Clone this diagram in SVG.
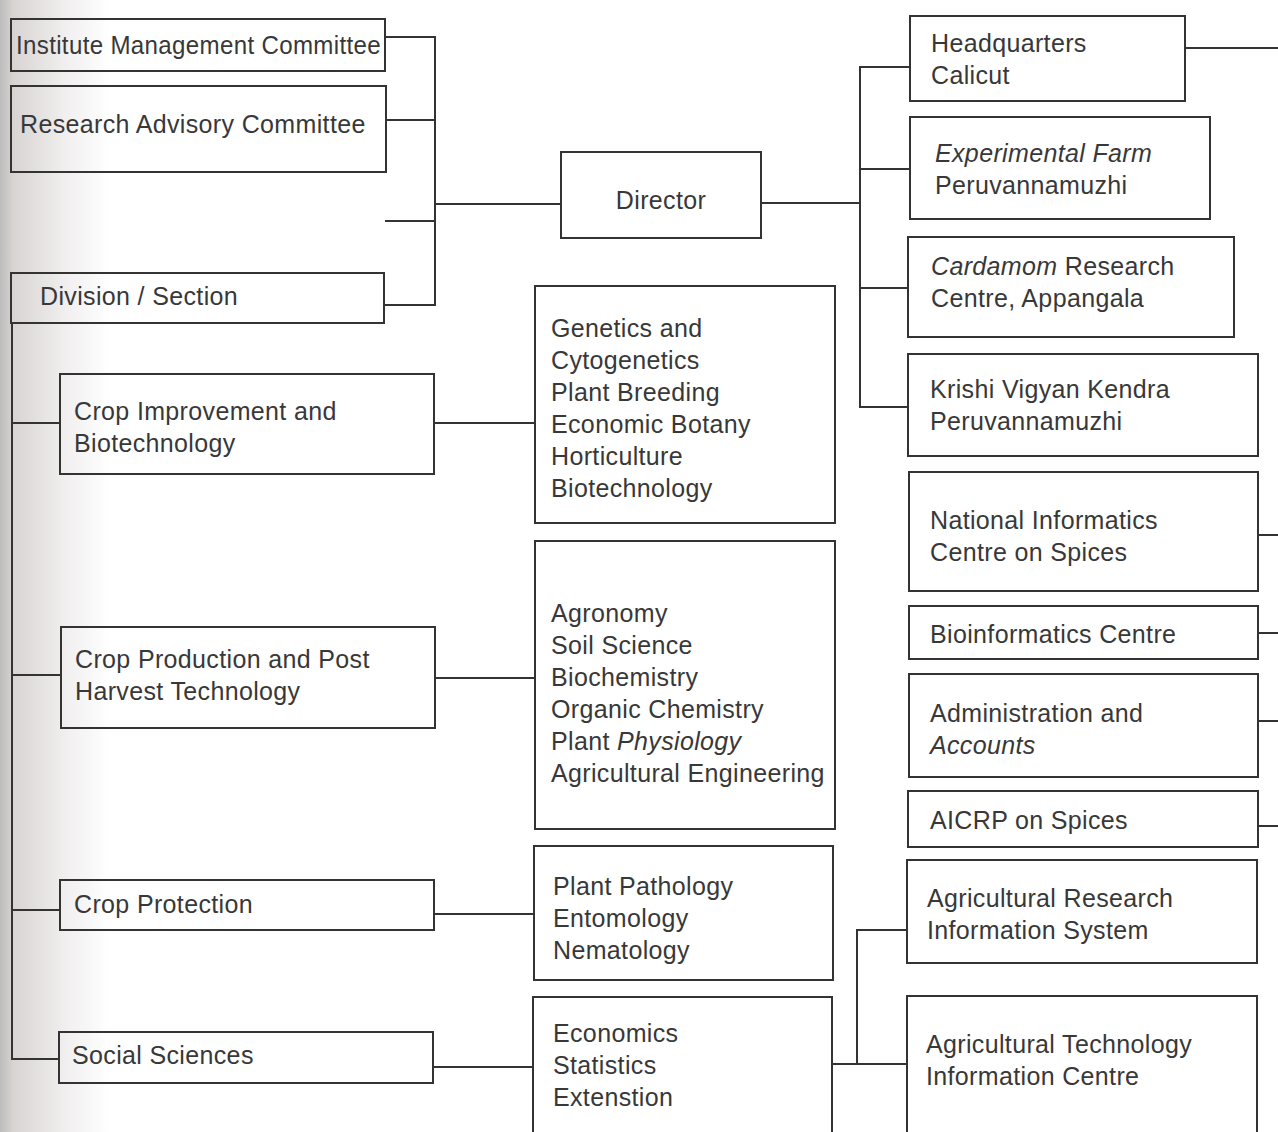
<svg xmlns="http://www.w3.org/2000/svg" width="1278" height="1132" viewBox="0 0 1278 1132">
<defs>
<linearGradient id="scan" x1="0" y1="0" x2="1" y2="0">
<stop offset="0" stop-color="#bcbcbc"/>
<stop offset="0.12" stop-color="#d8d4d2"/>
<stop offset="0.6" stop-color="#f1efef"/>
<stop offset="1" stop-color="#ffffff"/>
</linearGradient>
<style>
.box{fill:none;stroke:#333;stroke-width:2}
.ln{fill:none;stroke:#333;stroke-width:2}
text{font-family:"Liberation Sans",Arial,sans-serif;font-size:25px;fill:#383838;letter-spacing:0.35px}
.it{font-style:italic}
</style>
</defs>
<rect width="1278" height="1132" fill="#fff"/>
<rect x="0" y="0" width="110" height="1132" fill="url(#scan)"/>

<g id="connectors">
<path class="ln" d="M385,37 H435 V305 H384"/>
<path class="ln" d="M386,120 H435"/>
<path class="ln" d="M385,221 H435"/>
<path class="ln" d="M435,204 H561"/>
<path class="ln" d="M12,323 V1059 H59"/>
<path class="ln" d="M12,423 H60"/>
<path class="ln" d="M12,675 H61"/>
<path class="ln" d="M12,910 H60"/>
<path class="ln" d="M434,423 H535"/>
<path class="ln" d="M435,678 H535"/>
<path class="ln" d="M434,914 H534"/>
<path class="ln" d="M433,1067 H533"/>
<path class="ln" d="M761,203 H860"/>
<path class="ln" d="M910,67 H860 V407 H908"/>
<path class="ln" d="M860,169 H910"/>
<path class="ln" d="M860,288 H908"/>
<path class="ln" d="M832,1064 H907"/>
<path class="ln" d="M857,1064 V930 H907"/>
<path class="ln" d="M1185,48 H1278"/>
<path class="ln" d="M1258,535 H1278"/>
<path class="ln" d="M1258,633 H1278"/>
<path class="ln" d="M1258,721 H1278"/>
<path class="ln" d="M1258,826 H1278"/>
</g>

<g id="imc"><rect class="box" x="11" y="19" width="374" height="52"/><text x="16" y="54" textLength="365" lengthAdjust="spacingAndGlyphs">Institute Management Committee</text></g>
<g id="rac"><rect class="box" x="11" y="86" width="375" height="86"/><text x="20" y="133">Research Advisory Committee</text></g>
<g id="division"><rect class="box" x="11" y="273" width="373" height="50"/><text x="40" y="305">Division / Section</text></g>
<g id="cib"><rect class="box" x="60" y="374" width="374" height="100"/><text x="74" y="420">Crop Improvement and</text><text x="74" y="452">Biotechnology</text></g>
<g id="cpht"><rect class="box" x="61" y="627" width="374" height="101"/><text x="75" y="668">Crop Production and Post</text><text x="75" y="700">Harvest Technology</text></g>
<g id="cprot"><rect class="box" x="60" y="880" width="374" height="50"/><text x="74" y="913">Crop Protection</text></g>
<g id="social"><rect class="box" x="59" y="1032" width="374" height="51"/><text x="72" y="1064">Social Sciences</text></g>

<g id="director"><rect class="box" x="561" y="152" width="200" height="86"/><text x="661" y="209" text-anchor="middle">Director</text></g>
<g id="genetics"><rect class="box" x="535" y="286" width="300" height="237"/>
<text x="551" y="337">Genetics and</text><text x="551" y="369">Cytogenetics</text><text x="551" y="401">Plant Breeding</text><text x="551" y="433">Economic Botany</text><text x="551" y="465">Horticulture</text><text x="551" y="497">Biotechnology</text></g>
<g id="agronomy"><rect class="box" x="535" y="541" width="300" height="288"/>
<text x="551" y="622">Agronomy</text><text x="551" y="654">Soil Science</text><text x="551" y="686">Biochemistry</text><text x="551" y="718">Organic Chemistry</text><text x="551" y="750">Plant <tspan class="it">Physiology</tspan></text><text x="551" y="782">Agricultural Engineering</text></g>
<g id="pathology"><rect class="box" x="534" y="846" width="299" height="134"/>
<text x="553" y="895">Plant Pathology</text><text x="553" y="927">Entomology</text><text x="553" y="959">Nematology</text></g>
<g id="economics"><rect class="box" x="533" y="997" width="299" height="140"/>
<text x="553" y="1042">Economics</text><text x="553" y="1074">Statistics</text><text x="553" y="1106">Extenstion</text></g>

<g id="hq"><rect class="box" x="910" y="16" width="275" height="85"/><text x="931" y="52">Headquarters</text><text x="931" y="84">Calicut</text></g>
<g id="farm"><rect class="box" x="910" y="117" width="300" height="102"/><text class="it" x="935" y="162">Experimental Farm</text><text x="935" y="194">Peruvannamuzhi</text></g>
<g id="cardamom"><rect class="box" x="908" y="237" width="326" height="100"/><text x="931" y="275"><tspan class="it">Cardamom</tspan> Research</text><text x="931" y="307">Centre, Appangala</text></g>
<g id="kvk"><rect class="box" x="908" y="354" width="350" height="102"/><text x="930" y="398">Krishi Vigyan Kendra</text><text x="930" y="430">Peruvannamuzhi</text></g>
<g id="nic"><rect class="box" x="909" y="472" width="349" height="119"/><text x="930" y="529">National Informatics</text><text x="930" y="561">Centre on Spices</text></g>
<g id="bio"><rect class="box" x="909" y="606" width="349" height="53"/><text x="930" y="643">Bioinformatics Centre</text></g>
<g id="admin"><rect class="box" x="909" y="674" width="349" height="103"/><text x="930" y="722">Administration and</text><text class="it" x="930" y="754">Accounts</text></g>
<g id="aicrp"><rect class="box" x="908" y="791" width="350" height="56"/><text x="930" y="829">AICRP on Spices</text></g>
<g id="aris"><rect class="box" x="907" y="860" width="350" height="103"/><text x="927" y="907">Agricultural Research</text><text x="927" y="939">Information System</text></g>
<g id="atic"><rect class="box" x="907" y="996" width="350" height="141"/><text x="926" y="1053">Agricultural Technology</text><text x="926" y="1085">Information Centre</text></g>
</svg>
